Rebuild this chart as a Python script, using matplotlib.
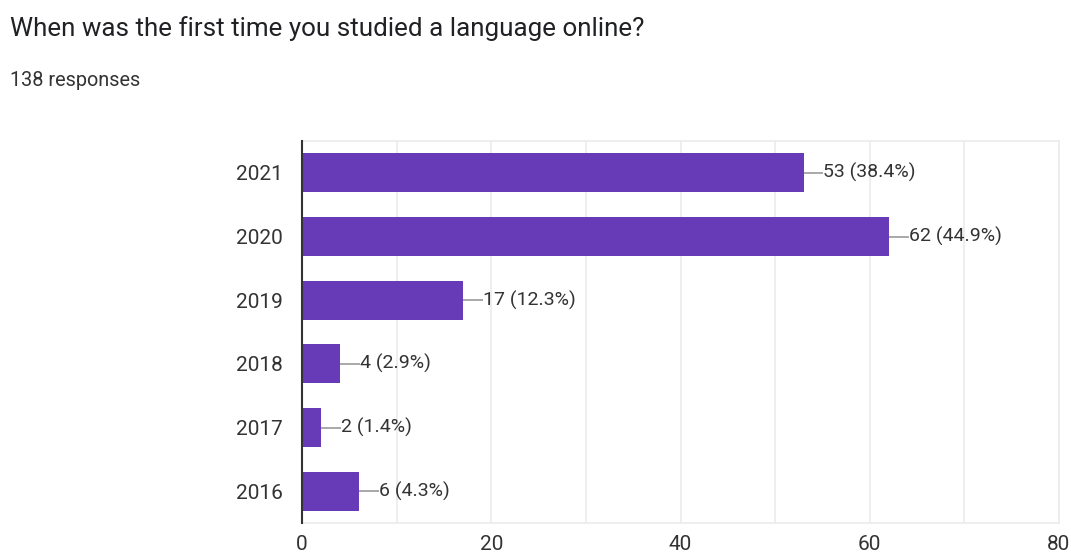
import matplotlib
matplotlib.use("Agg")
import matplotlib.pyplot as plt

years = ["2021", "2020", "2019", "2018", "2017", "2016"]
counts = [53, 62, 17, 4, 2, 6]
percents = ["38.4%", "44.9%", "12.3%", "2.9%", "1.4%", "4.3%"]
title = "When was the first time you studied a language online?"
subtitle = "138 responses"

plt.rcParams['font.family'] = ['Roboto', 'DejaVu Sans']

fig = plt.figure(figsize=(10.71, 5.55), dpi=100)
ax = fig.add_axes([302/1071, 1-523/555, (1059-302)/1071, (523-141)/555])

ypos = list(range(len(years)))
ax.barh(ypos, counts, height=0.61, color="#673ab7", zorder=3)
ax.set_ylim(len(years)-0.5, -0.5)
ax.set_xlim(0, 80)
ax.set_yticks(ypos)
ax.set_yticklabels(years, fontsize=15, color="#333333")
ax.set_xticks([0, 20, 40, 60, 80])
ax.set_xticks(range(0, 81, 10), minor=True)
ax.tick_params(axis='x', which='both', length=0, labelsize=15, labelcolor="#333333", pad=9)
ax.tick_params(axis='y', length=0, pad=14)
ax.grid(axis='x', which='both', color="#ebebeb", linewidth=1.2, zorder=0)
for s in ['top', 'right', 'bottom']:
    ax.spines[s].set_color("#ebebeb")
    ax.spines[s].set_linewidth(1.2)
ax.spines['left'].set_color("#333333")
ax.spines['left'].set_linewidth(1.5)
ax.spines['left'].set_zorder(4)

for y, c, p in zip(ypos, counts, percents):
    ax.plot([c, c + 2.1], [y, y], color="#999999", linewidth=1.2, zorder=4, solid_capstyle='butt')
    ax.text(c + 2.1, y, f"{c} ({p})", va='center', ha='left', fontsize=14, color="#333333")

fig.text(10/1071, 1-29/555, title, fontsize=18.7, color="#202124", va='center', ha='left')
fig.text(10/1071, 1-80/555, subtitle, fontsize=14.3, color="#333333", va='center', ha='left')

fig.savefig("out.png", dpi=100)
